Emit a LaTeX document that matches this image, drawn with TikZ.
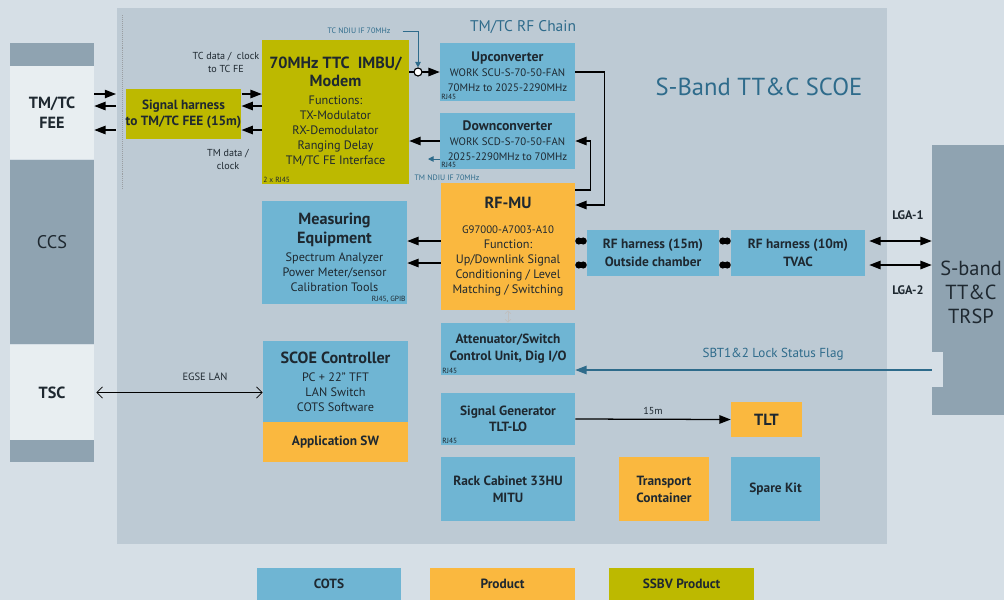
\documentclass[tikz,border=0pt]{standalone}
\usepackage{fontspec}
\setmainfont{PT Sans}
\usepackage{tikz}
\usetikzlibrary{positioning,arrows.meta}
\definecolor{page}{HTML}{D6DFE6}
\definecolor{panel}{HTML}{BDCAD4}
\definecolor{cots}{HTML}{6FB5D3}
\definecolor{product}{HTML}{FAB83F}
\definecolor{ssbv}{HTML}{BDB900}
\definecolor{column}{HTML}{8FA3B1}
\definecolor{pale}{HTML}{E8EEF1}
\definecolor{ink}{HTML}{1E2830}
\definecolor{flag}{HTML}{2E6B8B}
\newcommand{\bighd}{\fontsize{11.5}{14}\selectfont\bfseries}
\newcommand{\boxttl}{\fontsize{9.8}{10.7}\selectfont\bfseries}
\newcommand{\smtxt}{\fontsize{7.7}{10}\selectfont}

\begin{document}
\begin{tikzpicture}[
    x=0.025cm, y=-0.025cm,
    wh/.style 2 args = {minimum width=#1*0.025cm, minimum height=#2*0.025cm},
    base/.style = {rectangle, inner sep=0pt, align=center, text=ink, font=\fontsize{8.7}{10.7}\selectfont},
    heavy/.style = {font=\fontsize{9.5}{11}\selectfont\bfseries},
    cots/.style = {base, fill=cots},
    product/.style = {base, fill=product},
    ssbv/.style = {base, fill=ssbv},
    edgebox/.style = {base, fill=pale, font=\fontsize{11.5}{14}\selectfont\bfseries},
    rj/.style = {inner sep=1pt, text=ink, font=\fontsize{5.3}{6}\selectfont},
    cable/.style = {inner sep=0pt, align=center, text=ink, font=\fontsize{7.2}{9.3}\selectfont},
    lga/.style = {inner sep=0pt, text=ink, font=\fontsize{8.8}{10}\selectfont\bfseries},
    ndiu/.style = {inner sep=0pt, text=flag, font=\fontsize{5.6}{6.5}\selectfont},
    sig/.style = {line width=0.9pt, draw=black, -{Triangle[length=8pt, width=6pt]}},
    twoway/.style = {line width=0.9pt, draw=black, {Triangle[length=8pt, width=6pt]}-{Triangle[length=8pt, width=6pt]}},
    rfline/.style = {line width=0.9pt, draw=black, {Circle[length=5pt]}-{Circle[length=5pt]}},
    flagline/.style = {line width=0.6pt, draw=flag, -{Triangle[length=4pt, width=4pt]}},
]

    % canvas
    \useasboundingbox (0,0) rectangle (1004,600);
    \fill[page] (0,0) rectangle (1004,600);
    \fill[panel] (117,8) rectangle (887,544);
    \draw[densely dotted, ink!45] (122,15) -- (122,190);

    % titles
    \node[text=flag, font=\fontsize{11}{13}\selectfont] (rfchain) at (523,27) {TM/TC RF Chain};
    \node[text=flag, font=\fontsize{17.5}{20}\selectfont] (scoe) at (759,87) {S-Band TT\&C SCOE};

    % left column
    \fill[column] (10,43) rectangle (94,66);
    \node[edgebox, wh={84}{93}] (fee) at (52,112.5) {TM/TC\\FEE};
    \fill[column] (10,160) rectangle (94,344);
    \node[text=ink, font=\fontsize{13}{15}\selectfont] (ccs) at (52,242) {CCS};
    \node[edgebox, wh={84}{95}] (tsc) at (52,392.5) {TSC};
    \fill[column] (10,440) rectangle (94,462);

    % transponder
    \node[fill=column, inner sep=0pt, wh={72}{270}] (trsp) at (968,280) {};
    \fill[page] (932,352) rectangle (943,387);
    \node[text=ink, align=center, font=\fontsize{14.5}{17}\selectfont] (trsplabel) at (971,292) {S-band\\TT\&C\\TRSP};

    % TM/TC chain
    \node[ssbv, heavy, wh={113}{50}] (harness) at (183.5,114) {Signal harness\\to TM/TC FEE (15m)};
    \node[ssbv, wh={147}{144}] (modem) at (335.5,112) {{\bighd 70MHz TTC\ \ IMBU/}\\[2pt]{\bighd Modem}\\[2pt]Functions:\\TX-Modulator\\RX-Demodulator\\Ranging Delay\\TM/TC FE Interface};
    \node[rj, anchor=south west] (modemrj) at (modem.south west) {2 x RJ45};
    \node[cots, wh={135}{58}] (up) at (507.5,72) {{\boxttl Upconverter}\\{\smtxt WORK SCU-S-70-50-FAN}\\{\smtxt 70MHz to 2025-2290MHz}};
    \node[rj, anchor=south west] (uprj) at (up.south west) {RJ45};
    \node[cots, wh={135}{56}] (down) at (507.5,141) {{\boxttl Downconverter}\\{\smtxt WORK SCD-S-70-50-FAN}\\{\smtxt 2025-2290MHz to 70MHz}};
    \node[rj, anchor=south west] (downrj) at (down.south west) {RJ45};

    % RF path
    \node[product, wh={134}{127}] (rfmu) at (508,246.5) {{\bighd RF-MU}\\[7pt]{\smtxt G97000-A7003-A10}\\Function:\\Up/Downlink Signal\\Conditioning / Level\\Matching / Switching};
    \node[cots, wh={145}{103}] (meas) at (334.5,252.5) {{\bighd Measuring}\\[3pt]{\bighd Equipment}\\[2pt]Spectrum Analyzer\\Power Meter/sensor\\Calibration Tools};
    \node[rj, anchor=south east] (measrj) at (meas.south east) {RJ45, GPIB};
    \node[cots, heavy, wh={132}{46}] (rfh15) at (653,253) {RF harness (15m)\\[1.8pt]Outside chamber};
    \node[cots, heavy, wh={134}{46}] (rfh10) at (798,253) {RF harness (10m)\\[1.8pt]TVAC};
    \node[cots, heavy, wh={134}{52}] (att) at (508,349) {Attenuator/Switch\\[1pt]Control Unit, Dig I/O};
    \node[rj, anchor=south west] (attrj) at (att.south west) {RJ45};

    % control and test
    \node[cots, wh={145}{81}] (ctrl) at (335.5,381.5) {{\bighd SCOE Controller}\\[2pt]PC + 22" TFT\\LAN Switch\\COTS Software};
    \node[product, heavy, wh={145}{40}] (appsw) at (335.5,442) {Application SW};
    \node[cots, heavy, wh={134}{52}] (siggen) at (508,419) {Signal Generator\\[0.4pt]TLT-LO};
    \node[rj, anchor=south west] (sigrj) at (siggen.south west) {RJ45};
    \node[product, wh={71}{35}, font=\fontsize{11.5}{13}\selectfont\bfseries] (tlt) at (766.5,419.5) {TLT};
    \node[cots, heavy, wh={134}{64}] (rack) at (508,489) {Rack Cabinet 33HU\\[1pt]MITU};
    \node[product, heavy, wh={90}{64}] (transport) at (664,489) {Transport\\[1pt]Container};
    \node[cots, heavy, wh={89}{64}] (spare) at (775.5,489) {Spare Kit};

    % legend
    \node[cots, heavy, wh={144}{32}] (kcots) at (329,584) {COTS};
    \node[product, heavy, wh={145}{32}] (kprod) at (502.5,584) {Product};
    \node[ssbv, heavy, wh={145}{32}] (kssbv) at (681.5,584) {SSBV Product};

    % FEE harness
    \coordinate (fa) at (116,94);
    \coordinate (fb) at (116,106);
    \coordinate (fc) at (116,130);
    \draw[sig] (fee.east |- fa) -- (fa);
    \draw[sig] (fb) -- (fee.east |- fb);
    \draw[sig] (fc) -- (fee.east |- fc);
    \draw[sig] (harness.east |- fa) -- (modem.west |- fa);
    \draw[sig] (modem.west |- fb) -- (harness.east |- fb);
    \draw[sig] (modem.west |- fc) -- (harness.east |- fc);
    \node[cable] (tcdata) at (226,62) {TC data /\ \ clock\\to TC FE};
    \node[cable] (tmdata) at (228,159) {TM data /\\clock};

    % IF links
    \draw[sig] (modem.east |- up.west) -- (up.west);
    \node[circle, draw=black, fill=white, line width=0.8pt, inner sep=0pt, minimum size=0.2cm] (junction) at (418,72) {};
    \node[ndiu] (tcndiu) at (359,31) {TC NDIU IF 70MHz};
    \draw[flagline, shorten <=0.3cm] (tcndiu.east) -| (junction.north);
    \draw[sig] (down.west) -- (modem.east |- down.west);
    \coordinate (tmtip) at (428,159);
    \draw[flagline] (down.west |- tmtip) -- (tmtip);
    \node[ndiu] (tmndiu) at (447,177.5) {TM NDIU IF 70MHz};
    \draw[sig] (up.east) -- ++(29,0) |- (rfmu.east |- 0,205);
    \draw[sig] (rfmu.east |- 0,190) -- ++(15,0) |- (down.east);

    % measurement and RF harness
    \draw[sig] (rfmu.west |- 0,241) -- (meas.east |- 0,241);
    \draw[sig] (rfmu.west |- 0,263) -- (meas.east |- 0,263);
    \draw[rfline] (rfmu.east |- 0,241) -- (rfh15.west |- 0,241);
    \draw[rfline] (rfmu.east |- 0,265) -- (rfh15.west |- 0,265);
    \draw[rfline] (rfh15.east |- 0,241) -- (rfh10.west |- 0,241);
    \draw[rfline] (rfh15.east |- 0,265) -- (rfh10.west |- 0,265);
    \draw[twoway, shorten <=0.1cm] (rfh10.east |- 0,241) -- (trsp.west |- 0,241);
    \draw[twoway, shorten <=0.1cm] (rfh10.east |- 0,265) -- (trsp.west |- 0,265);
    \node[lga] (lga1) at (908,215) {LGA-1};
    \node[lga] (lga2) at (908,290) {LGA-2};
    \draw[line width=0.5pt, draw=black!25, {Straight Barb[length=2pt]}-{Straight Barb[length=2pt]}] (rfmu.south) -- (att.north);
    \draw[line width=0.8pt, draw=flag, -{Triangle[length=8pt, width=6pt]}] (trsp.west |- 0,370) -- (att.east |- 0,370) node[pos=0.445, above=3pt, text=flag, font=\fontsize{9.3}{10}\selectfont] (flagtext) {SBT1\&2 Lock Status Flag};

    % control and test links
    \draw[line width=0.6pt, {Straight Barb[length=4pt]}-{Straight Barb[length=4pt]}, shorten <=0.05cm] (tsc.east) -- (ctrl.west |- tsc.east);
    \node[cable, font=\fontsize{7.5}{9}\selectfont] (egse) at (205,377) {EGSE LAN};
    \draw[sig] (siggen.east) -- (tlt.west) node[midway, above=3pt, cable] (len) {15m};

\end{tikzpicture}
\end{document}
